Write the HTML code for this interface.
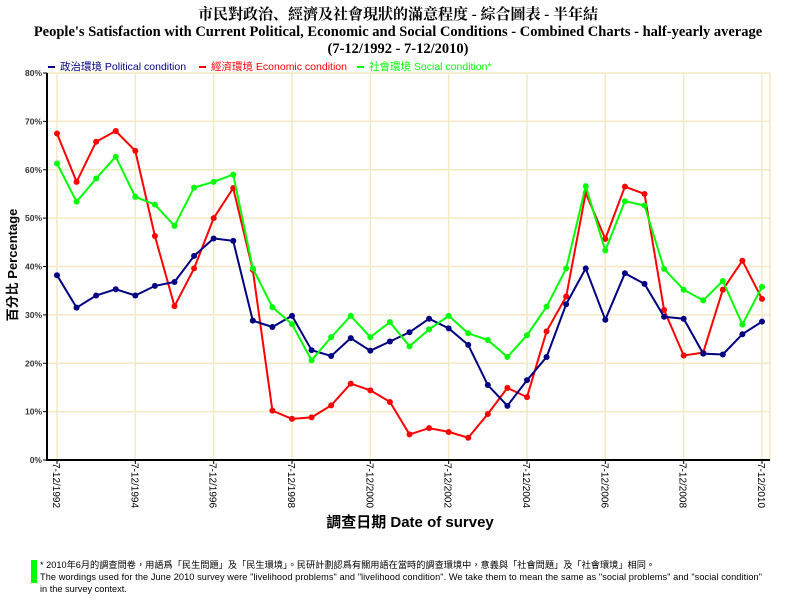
<!DOCTYPE html>
<html><head><meta charset="utf-8"><style>
body{margin:0;background:#fff;width:796px;height:600px;overflow:hidden;font-family:"Liberation Sans","Noto Sans CJK TC",sans-serif}
</style></head><body>
<svg id="s" width="796" height="600" xmlns="http://www.w3.org/2000/svg">
<text x="398" y="19" text-anchor="middle" font-family="Liberation Serif,Noto Serif CJK SC,serif" font-weight="bold" font-size="15">市民對政治、經濟及社會現狀的滿意程度 - 綜合圖表 - 半年結</text>
<text x="398" y="36" text-anchor="middle" font-family="Liberation Serif,serif" font-weight="bold" font-size="14.5">People's Satisfaction with Current Political, Economic and Social Conditions - Combined Charts - half-yearly average</text>
<text x="398" y="53" text-anchor="middle" font-family="Liberation Serif,serif" font-weight="bold" font-size="14.5">(7-12/1992 - 7-12/2010)</text>
<g font-size="10.5">
<rect x="48" y="66" width="7" height="2" fill="#000080"/><text x="60" y="70" fill="#000080">政治環境 Political condition</text>
<rect x="199" y="66" width="7" height="2" fill="#ff0000"/><text x="211" y="70" fill="#ff0000">經濟環境 Economic condition</text>
<rect x="357" y="66" width="7" height="2" fill="#00ff00"/><text x="369" y="70" fill="#00ff00">社會環境 Social condition*</text>
</g>
<g id="g"></g>
<text transform="translate(17,265) rotate(-90)" text-anchor="middle" font-weight="bold" font-size="13">百分比 Percentage</text>
<text x="410" y="527" text-anchor="middle" font-weight="bold" font-size="15">調查日期 Date of survey</text>
<rect x="31" y="560" width="6" height="23" fill="#00ff00"/>
<g font-size="9.2">
<text x="40" y="568">* 2010年6月的調查問卷，用語爲「民生問題」及「民生環境」。民研計劃認爲有關用語在當時的調查環境中，意義與「社會問題」及「社會環境」相同。</text>
<text x="40" y="580" textLength="722">The wordings used for the June 2010 survey were "livelihood problems" and "livelihood condition". We take them to mean the same as "social problems" and "social condition"</text>
<text x="40" y="592">in the survey context.</text>
</g>
</svg>
<script>
var P=[38.2,31.5,34,35.3,34,36,36.8,42.2,45.8,45.3,28.8,27.5,29.8,22.7,21.5,25.2,22.6,24.5,26.4,29.2,27.2,23.8,15.5,11.2,16.5,21.3,32.2,39.6,29,38.6,36.4,29.6,29.2,22,21.8,26,28.6];
var E=[67.5,57.5,65.8,68,63.9,46.3,31.8,39.6,50,56.2,39.3,10.2,8.5,8.8,11.3,15.8,14.4,12,5.3,6.6,5.8,4.6,9.5,14.9,13,26.6,33.8,55.2,45.7,56.5,55,31,21.6,22.2,35.2,41.2,33.3];
var S=[61.3,53.4,58.2,62.7,54.4,52.8,48.4,56.3,57.5,59,39.6,31.6,28.1,20.6,25.4,29.8,25.4,28.5,23.5,27,29.8,26.2,24.8,21.3,25.8,31.7,39.6,56.6,43.3,53.5,52.6,39.5,35.2,33,37,28,35.8];
var h='';function X(i){return 57+i*19.583}function Y(v){return 460-v*4.8375}
for(var k=1;k<=8;k++){h+='<line x1="47" x2="770" y1="'+Y(k*10)+'" y2="'+Y(k*10)+'" stroke="#f3e9c4" stroke-width="1.5"/>';}
for(var i=0;i<10;i++){var x=X(i*4);h+='<line x1="'+x+'" x2="'+x+'" y1="73" y2="460" stroke="#f3e9c4" stroke-width="1.5"/>';
var yr=1992+2*i;h+='<line x1="'+x+'" x2="'+x+'" y1="460" y2="464" stroke="#000"/><text transform="translate('+(x-4)+',463) rotate(90)" font-size="10">7-12/'+yr+'</text>';}
h+='<line x1="770" x2="770" y1="73" y2="460" stroke="#f3e9c4" stroke-width="1.5"/>';
h+='<line x1="47" x2="47" y1="73" y2="461" stroke="#000" stroke-width="2"/><line x1="46" x2="770" y1="460" y2="460" stroke="#000" stroke-width="2"/>';
for(var k=0;k<=8;k++){var y=Y(k*10);h+='<line x1="43" x2="47" y1="'+y+'" y2="'+y+'" stroke="#000"/><text x="42" y="'+(y+3)+'" text-anchor="end" font-size="8.5" font-weight="bold" fill="#333">'+(k*10)+'%</text>';}
[[E,'#ff0000'],[P,'#000080'],[S,'#00ff00']].forEach(function(a){var d=a[0],pts=d.map(function(v,i){return X(i).toFixed(1)+','+Y(v).toFixed(1)}).join(' ');
h+='<polyline points="'+pts+'" fill="none" stroke="'+a[1]+'" stroke-width="2"/>';d.forEach(function(v,i){h+='<circle cx="'+X(i)+'" cy="'+Y(v)+'" r="3" fill="'+a[1]+'"/>';});});
document.getElementById('g').innerHTML=h;
</script>
</body></html>
